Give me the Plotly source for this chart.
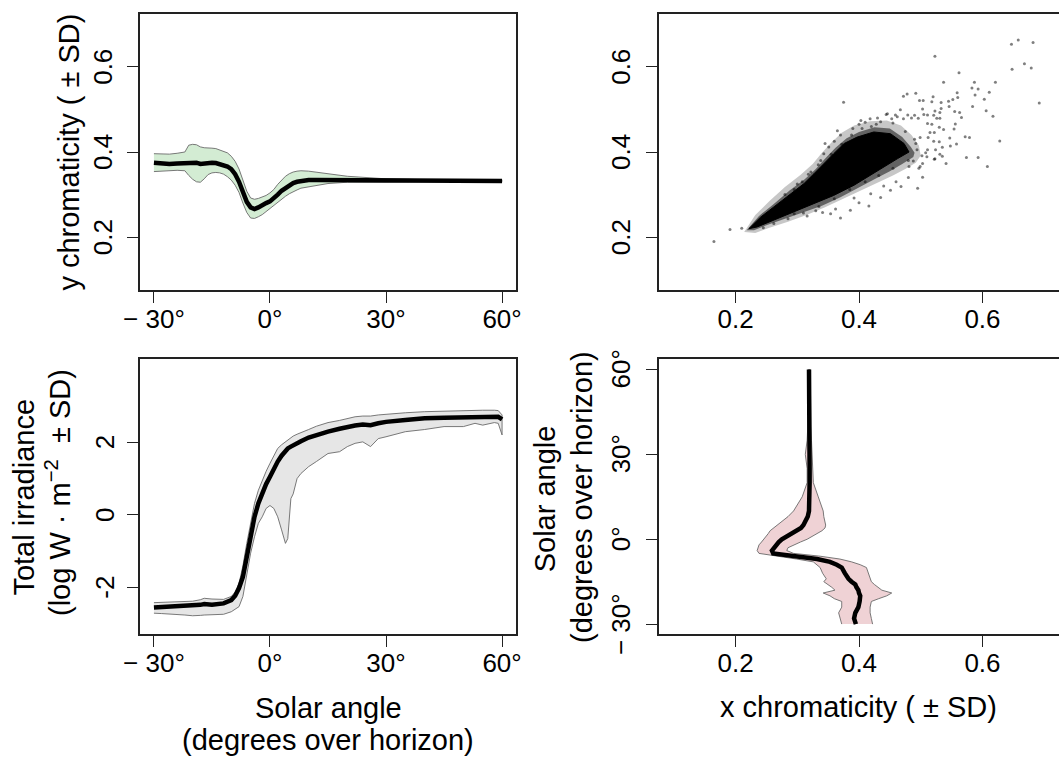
import plotly.graph_objects as go

# ---------------- data ----------------
# Panel A: y chromaticity vs solar angle
ang_y = [-30,-28,-26,-24,-22,-21,-20,-19,-18,-17,-16,-15,-14,-13,-12,-11,-10,-9,-8,-7,-6,-5,-4,-3,-2,-1,0,1,2,3,4,5,6,7,8,10,12,15,20,25,30,40,50,60]
y_mean = [0.375,0.373,0.372,0.373,0.374,0.376,0.377,0.375,0.372,0.373,0.375,0.375,0.374,0.372,0.370,0.366,0.360,0.348,0.330,0.305,0.283,0.270,0.266,0.270,0.276,0.280,0.284,0.291,0.300,0.309,0.316,0.322,0.327,0.330,0.332,0.334,0.334,0.334,0.334,0.334,0.333,0.333,0.332,0.332]
y_upper = [0.396,0.395,0.395,0.397,0.400,0.416,0.418,0.417,0.412,0.410,0.410,0.409,0.408,0.405,0.402,0.398,0.390,0.378,0.360,0.335,0.308,0.292,0.289,0.291,0.294,0.298,0.304,0.312,0.324,0.334,0.343,0.349,0.353,0.355,0.356,0.355,0.353,0.349,0.343,0.340,0.337,0.335,0.334,0.333]
y_lower = [0.354,0.356,0.356,0.357,0.356,0.345,0.336,0.330,0.329,0.337,0.347,0.351,0.352,0.351,0.348,0.342,0.334,0.322,0.305,0.280,0.258,0.245,0.244,0.248,0.253,0.259,0.266,0.273,0.281,0.289,0.296,0.302,0.307,0.311,0.315,0.319,0.322,0.326,0.329,0.329,0.329,0.330,0.331,0.331]

# Panel B: x vs y chromaticity scatter (dense core outline, halo outlines, sparse points)
core_x = [0.2216,0.2405,0.262,0.289,0.311,0.327,0.343,0.359,0.376,0.397,0.424,0.451,0.473,0.481,0.462,0.440,0.419,0.392,0.359,0.327,0.295,0.262,0.235,0.2216]
core_y = [0.220,0.247,0.271,0.302,0.326,0.349,0.373,0.396,0.420,0.435,0.447,0.443,0.420,0.400,0.384,0.365,0.345,0.322,0.298,0.279,0.259,0.240,0.224,0.220]
halo_x = [0.218,0.238,0.262,0.288,0.312,0.330,0.346,0.362,0.380,0.400,0.425,0.450,0.470,0.484,0.490,0.488,0.470,0.450,0.425,0.400,0.370,0.340,0.310,0.280,0.250,0.230,0.218]
halo_y = [0.216,0.250,0.278,0.310,0.336,0.360,0.386,0.410,0.432,0.447,0.458,0.455,0.435,0.412,0.398,0.388,0.372,0.355,0.336,0.316,0.294,0.274,0.258,0.243,0.228,0.216,0.216]
outer_x = [0.214,0.232,0.255,0.280,0.305,0.325,0.340,0.355,0.372,0.392,0.418,0.445,0.468,0.485,0.497,0.500,0.492,0.475,0.455,0.430,0.405,0.375,0.345,0.315,0.285,0.255,0.232,0.214]
outer_y = [0.212,0.252,0.285,0.318,0.346,0.372,0.398,0.422,0.445,0.462,0.472,0.474,0.462,0.440,0.415,0.392,0.375,0.360,0.345,0.328,0.310,0.290,0.270,0.252,0.236,0.222,0.210,0.212]
pts_x = [0.647,0.658,0.682,0.648,0.668,0.679,0.692,0.523,0.562,0.537,0.587,0.621,0.583,0.593,0.611,0.603,0.588,0.559,0.560,0.552,0.546,0.584,0.606,0.617,0.555,0.563,0.566,0.556,0.554,0.537,0.572,0.579,0.628,0.547,0.558,0.548,0.535,0.574,0.593,0.608,0.541,0.535,0.531,0.523,0.472,0.478,0.492,0.498,0.504,0.520,0.518,0.533,0.533,0.545,0.503,0.523,0.531,0.531,0.526,0.521,0.511,0.505,0.496,0.490,0.485,0.479,0.472,0.467,0.459,0.453,0.444,0.418,0.435,0.511,0.518,0.530,0.522,0.515,0.512,0.530,0.521,0.524,0.511,0.508,0.502,0.510,0.503,0.499,0.481,0.488,0.494,0.490,0.499,
         0.165,0.191,0.210,0.375,0.403,0.446,0.462,
         0.370,0.416,0.435,0.495,0.468,0.451,0.316,0.341,0.362,0.392,0.400,0.419,0.497,0.522,0.386,0.354,0.503,0.295,0.330,0.440,0.480,0.460,
         0.351,0.343,0.338,0.322,0.308,0.295,0.360,0.370,0.390,0.410,0.420,0.400,0.430,0.345,0.365,
         0.280,0.300,0.318,0.334,0.355,0.372,0.388,0.405,0.428,0.455,0.475,0.492,0.480,0.455,0.432,0.410,0.385,0.360,0.335,0.310,0.285,0.262,0.245]
pts_y = [0.653,0.663,0.657,0.594,0.607,0.597,0.515,0.625,0.586,0.564,0.564,0.564,0.550,0.548,0.540,0.524,0.534,0.539,0.528,0.523,0.507,0.507,0.497,0.484,0.495,0.493,0.481,0.466,0.454,0.453,0.436,0.434,0.426,0.433,0.419,0.414,0.411,0.387,0.387,0.366,0.373,0.390,0.395,0.384,0.531,0.536,0.538,0.521,0.521,0.530,0.518,0.516,0.502,0.519,0.501,0.496,0.493,0.479,0.479,0.486,0.487,0.488,0.479,0.486,0.480,0.487,0.478,0.499,0.487,0.478,0.488,0.478,0.471,0.467,0.465,0.458,0.446,0.446,0.434,0.424,0.425,0.405,0.405,0.398,0.391,0.389,0.373,0.366,0.366,0.379,0.405,0.430,0.434,
         0.190,0.218,0.221,0.517,0.474,0.490,0.483,
         0.245,0.273,0.293,0.315,0.319,0.310,0.250,0.258,0.266,0.292,0.281,0.302,0.362,0.383,0.263,0.255,0.341,0.255,0.262,0.320,0.340,0.330,
         0.412,0.396,0.380,0.353,0.330,0.312,0.425,0.440,0.455,0.470,0.460,0.465,0.480,0.420,0.450,
         0.300,0.325,0.348,0.370,0.395,0.418,0.440,0.455,0.465,0.468,0.448,0.420,0.380,0.362,0.345,0.330,0.312,0.290,0.272,0.257,0.243,0.232,0.222]

# Panel C: total irradiance vs solar angle
ang_i = [-30,-28,-25,-22,-20,-18,-17,-15,-12,-10,-9,-8,-7,-6,-5,-4,-3,-2,-1,0,1,2,3,4,4.6,5.4,6,7,8,10,12,15,18,20,22,24,26,28,30,35,40,45,50,53,55,58,59,60]
irr_mean = [-2.54,-2.53,-2.52,-2.51,-2.50,-2.47,-2.45,-2.47,-2.43,-2.34,-2.22,-2.01,-1.70,-1.14,-0.60,-0.05,0.32,0.60,0.85,1.05,1.27,1.47,1.63,1.77,1.83,1.88,1.92,1.98,2.03,2.13,2.20,2.29,2.37,2.43,2.46,2.49,2.47,2.52,2.56,2.61,2.66,2.67,2.68,2.70,2.72,2.72,2.70,2.63]
irr_upper = [-2.41,-2.40,-2.39,-2.38,-2.37,-2.33,-2.29,-2.31,-2.32,-2.24,-2.12,-1.88,-1.40,-0.78,-0.20,0.32,0.68,0.96,1.20,1.42,1.63,1.83,1.93,2.01,2.06,2.12,2.17,2.22,2.27,2.35,2.44,2.54,2.60,2.66,2.70,2.72,2.72,2.75,2.77,2.81,2.84,2.86,2.87,2.88,2.88,2.88,2.87,2.75]
irr_lower = [-2.70,-2.71,-2.72,-2.75,-2.77,-2.76,-2.75,-2.73,-2.73,-2.66,-2.60,-2.52,-2.24,-1.69,-1.05,-0.60,-0.23,-0.05,0.18,0.26,0.18,-0.05,-0.41,-0.78,-0.65,0.45,0.58,1.00,1.14,1.33,1.47,1.69,1.74,1.88,1.97,2.01,1.88,2.10,2.15,2.29,2.35,2.43,2.43,2.52,2.47,2.54,2.52,2.20]

# Panel D: x chromaticity vs solar angle
ang_x = [-30,-28,-26,-24,-22,-21,-20,-19,-18,-17,-16,-15,-14,-12,-10,-9,-8,-7,-6,-5,-4,-3,-2,-1,0,1,2,3,4,5,6,8,10,15,20,25,30,35,40,50,60]
x_mean = [0.395,0.392,0.394,0.399,0.401,0.402,0.402,0.400,0.399,0.396,0.394,0.388,0.383,0.377,0.372,0.364,0.353,0.332,0.294,0.261,0.259,0.262,0.265,0.270,0.275,0.283,0.292,0.300,0.306,0.310,0.313,0.317,0.319,0.320,0.320,0.320,0.320,0.320,0.319,0.319,0.319]
x_left = [0.372,0.369,0.367,0.372,0.372,0.360,0.353,0.342,0.361,0.356,0.350,0.343,0.347,0.341,0.337,0.332,0.326,0.299,0.267,0.238,0.235,0.236,0.238,0.242,0.246,0.250,0.253,0.256,0.262,0.268,0.275,0.285,0.294,0.308,0.316,0.316,0.313,0.316,0.317,0.318,0.318]
x_right = [0.422,0.420,0.418,0.418,0.420,0.432,0.445,0.453,0.437,0.431,0.425,0.420,0.418,0.415,0.412,0.402,0.388,0.369,0.337,0.294,0.283,0.285,0.294,0.305,0.316,0.325,0.332,0.340,0.345,0.346,0.345,0.343,0.342,0.334,0.326,0.324,0.324,0.323,0.322,0.321,0.321]

angle_ticks = [-30, 0, 30, 60]
angle_labels = ["\u2212 30°", "0°", "30°", "60°"]
chrom_ticks = [0.2, 0.4, 0.6]
chrom_labels = ["0.2", "0.4", "0.6"]
irr_ticks = [-2, 0, 2]
irr_labels = ["-2", "0", "2"]

# ---------------- figure ----------------
FONT = "Liberation Sans, Arial, Helvetica, sans-serif"
FS_TICK = 26
FS_TITLE = 29
W, H = 1059, 760
TICKLEN = 11
band_line = dict(color="#6a6a6a", width=0.9)

fig = go.Figure()

# A
fig.add_trace(go.Scatter(x=ang_y + ang_y[::-1], y=y_upper + y_lower[::-1], fill="toself",
                         fillcolor="#d3ecd3", line=band_line, mode="lines",
                         xaxis="x", yaxis="y", hoverinfo="skip"))
fig.add_trace(go.Scatter(x=ang_y, y=y_mean, mode="lines", line=dict(color="black", width=4.5),
                         xaxis="x", yaxis="y"))
# B
fig.add_trace(go.Scatter(x=outer_x, y=outer_y, fill="toself", fillcolor="rgba(0,0,0,0.22)",
                         line=dict(width=0), mode="lines", xaxis="x2", yaxis="y2", hoverinfo="skip"))
fig.add_trace(go.Scatter(x=halo_x, y=halo_y, fill="toself", fillcolor="rgba(0,0,0,0.5)",
                         line=dict(width=0), mode="lines", xaxis="x2", yaxis="y2", hoverinfo="skip"))
fig.add_trace(go.Scatter(x=core_x, y=core_y, fill="toself", fillcolor="black",
                         line=dict(color="black", width=1), mode="lines", xaxis="x2", yaxis="y2"))
fig.add_trace(go.Scatter(x=pts_x, y=pts_y, mode="markers",
                         marker=dict(size=3, color="rgba(0,0,0,0.5)", line=dict(width=0)),
                         xaxis="x2", yaxis="y2"))
# C
fig.add_trace(go.Scatter(x=ang_i + ang_i[::-1], y=irr_upper + irr_lower[::-1], fill="toself",
                         fillcolor="#e6e6e6", line=band_line, mode="lines",
                         xaxis="x3", yaxis="y3", hoverinfo="skip"))
fig.add_trace(go.Scatter(x=ang_i, y=irr_mean, mode="lines", line=dict(color="black", width=4.5),
                         xaxis="x3", yaxis="y3"))
# D
fig.add_trace(go.Scatter(x=x_left + x_right[::-1], y=ang_x + ang_x[::-1], fill="toself",
                         fillcolor="#efd2d5", line=band_line, mode="lines",
                         xaxis="x4", yaxis="y4", hoverinfo="skip"))
fig.add_trace(go.Scatter(x=x_mean, y=ang_x, mode="lines", line=dict(color="black", width=4.5),
                         xaxis="x4", yaxis="y4"))

dom_left = [140 / W, 516 / W]
dom_right = [659 / W, 1.0]
dom_top = [1 - 290 / H, 1 - 14 / H]
dom_bot = [1 - 634.3 / H, 1 - 359.3 / H]

def xax(dom, anchor, rng, tv, tt):
    return dict(domain=dom, anchor=anchor, range=rng, tickvals=tv, ticktext=tt,
                showline=True, linecolor="#222", linewidth=1.5, mirror=True,
                ticks="outside", ticklen=TICKLEN, tickwidth=1.3, tickcolor="#222",
                showgrid=False, zeroline=False, ticklabelstandoff=-6, automargin=False,
                tickfont=dict(family=FONT, size=FS_TICK, color="black"))

def yax(dom, anchor, rng, tv, mirror):
    return dict(domain=dom, anchor=anchor, range=rng, tickvals=tv,
                showline=True, linecolor="#222", linewidth=1.5, mirror=mirror,
                ticks="outside", ticklen=TICKLEN, tickwidth=1.3, tickcolor="#222",
                showgrid=False, zeroline=False, showticklabels=False, automargin=False)

ang_rng = [-33.6, 63.6]
chr_rng = [0.076, 0.724]
irr_rng = [-3.28, 4.28]

fig.update_layout(
    width=W, height=H, margin=dict(l=0, r=0, t=0, b=0, pad=0, autoexpand=False),
    paper_bgcolor="white", plot_bgcolor="white", showlegend=False,
    font=dict(family=FONT, size=FS_TICK, color="black"),
    xaxis=xax(dom_left, "y", ang_rng, angle_ticks, angle_labels),
    yaxis=yax(dom_top, "x", chr_rng, chrom_ticks, True),
    xaxis2=xax(dom_right, "y2", chr_rng, chrom_ticks, chrom_labels),
    yaxis2=yax(dom_top, "x2", chr_rng, chrom_ticks, False),
    xaxis3=xax(dom_left, "y3", ang_rng, angle_ticks, angle_labels),
    yaxis3=yax(dom_bot, "x3", irr_rng, irr_ticks, True),
    xaxis4=xax(dom_right, "y4", chr_rng, chrom_ticks, chrom_labels),
    yaxis4=yax(dom_bot, "x4", ang_rng, angle_ticks, False),
)

def ann(text, xpx, ypx, angle=0, size=FS_TITLE):
    fig.add_annotation(text=text, x=xpx / W, y=1 - ypx / H, xref="paper", yref="paper",
                       showarrow=False, textangle=angle, xanchor="center", yanchor="middle",
                       font=dict(family=FONT, size=size, color="black"))

# rotated y tick labels, positioned on each axis's own scale
def ytick_labels(yref, vals, texts, xpx):
    for v, t in zip(vals, texts):
        fig.add_annotation(text=t, x=xpx / W, y=v, xref="paper", yref=yref,
                           showarrow=False, textangle=-90, xanchor="center", yanchor="middle",
                           font=dict(family=FONT, size=FS_TICK, color="black"))

ytick_labels("y", chrom_ticks, chrom_labels, 103)
ytick_labels("y2", chrom_ticks, chrom_labels, 621)
ytick_labels("y3", irr_ticks, irr_labels, 105)
ytick_labels("y4", angle_ticks, angle_labels, 621)

ann("y chromaticity ( ± SD)", 68.6, 152, -90)
ann("Total irradiance", 23.6, 497, -90)
ann("(log W · m<sup>−2</sup>  ± SD)", 58, 493, -90)
ann("Solar angle", 328, 707.5)
ann("(degrees over horizon)", 328, 740)
ann("x chromaticity ( ± SD)", 858, 707)
ann("Solar angle", 545.3, 499, -90)
ann("(degrees over horizon)", 582, 497, -90)

fig.write_html("out.html", config={"displayModeBar": False},
               post_script="document.body.style.margin='0';document.body.style.overflow='hidden';")
